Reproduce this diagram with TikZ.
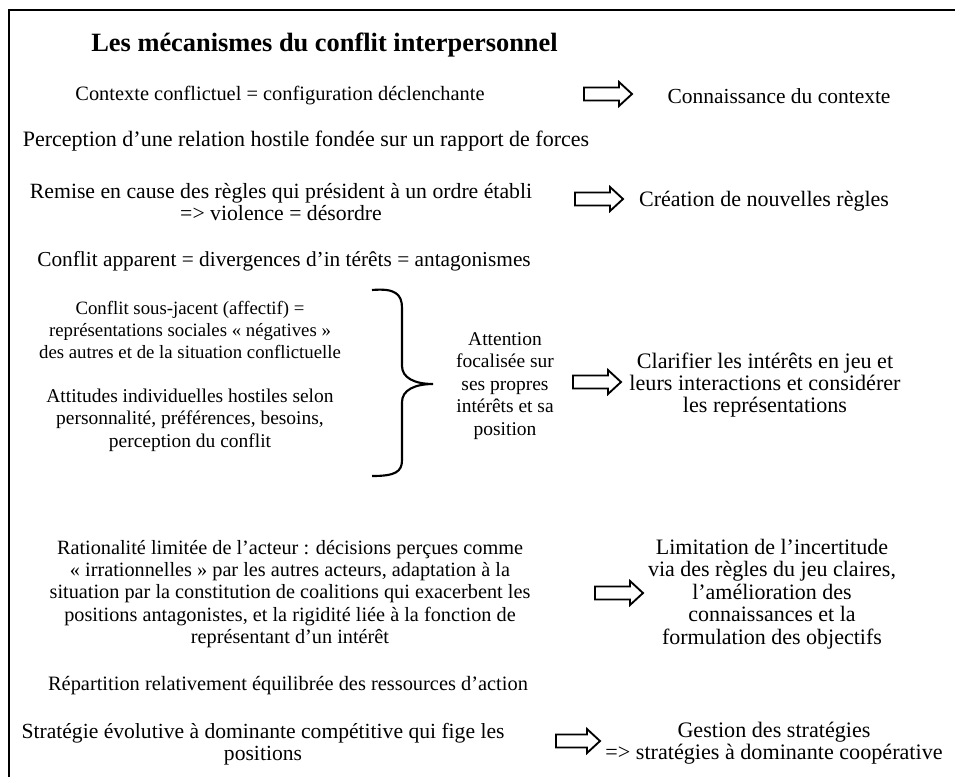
\documentclass[tikz,border=0pt]{standalone}
\usepackage{fontspec}
\setmainfont{Liberation Serif}
\begin{document}
\begin{tikzpicture}[x=0.75pt,y=-0.75pt,
  txt/.style={align=center,inner sep=0pt,font=\fontsize{#1}{16.8pt}\selectfont},
  txt/.default=14.6pt,
  ttl/.style={align=center,inner sep=0pt,font=\fontsize{19.8pt}{22pt}\selectfont\bfseries},
  blk/.style={draw=black,fill=white,line width=1.4pt,line join=miter}]
\useasboundingbox (0,0) rectangle (955,776);
\clip (0,0) rectangle (955,776);
\fill[white] (0,0) rectangle (955,776);
\draw[line width=1.5pt] (8.5,9.5) rectangle (980,800);

\node[ttl] (title) at (324.5,45) {Les mécanismes du conflit interpersonnel};

\node[txt=15.3pt] (t1) at (280,96) {Contexte conflictuel = configuration déclenchante};
\coordinate (a1) at (608,94);
\node[txt=16.1pt] (r1) at (779,96) {Connaissance du contexte};

\node[txt=16.5pt] (t2) at (306,141) {Perception d’une relation hostile fondée sur un rapport de forces};

\node[txt=16.3pt] (t3) at (281,202) {Remise en cause des règles qui président à un ordre établi\\=> violence = désordre};
\coordinate (a3) at (599,199);
\node[txt=16.5pt] (r3) at (764,201) {Création de nouvelles règles};

\node[txt=16pt] (t4) at (284,261) {Conflit apparent = divergences d’in térêts = antagonismes};

\node[txt=14.1pt] (t5a) at (190,330) {Conflit sous-jacent (affectif) =\\représentations sociales « négatives »\\des autres et de la situation conflictuelle};
\node[txt=14.6pt] (t5b) at (190,420) {Attitudes individuelles hostiles selon\\personnalité, préférences, besoins,\\perception du conflit};

\coordinate (bt) at (372,290);
\coordinate (bp) at (433,384);
\coordinate (bb) at (372,476);
\draw[line width=1.6pt] (bt) .. controls (395,288) and (402,294) .. (402,308)
  -- (402,366) .. controls (402,378) and (415,384) .. (bp)
  .. controls (415,384) and (402,390) .. (402,402)
  -- (402,460) .. controls (402,472) and (395,476) .. (bb);

\node[txt=14.6pt] (mid) at (505,386) {Attention\\focalisée sur\\ses propres\\intérêts et sa\\position};
\coordinate (a5) at (597,382);
\node[txt=16.6pt] (r5) at (765,385) {Clarifier les intérêts en jeu et\\leurs interactions et considérer\\les représentations};

\node[txt=15.2pt] (t6) at (290,594) {Rationalité limitée de l’acteur : décisions perçues comme\\« irrationnelles » par les autres acteurs, adaptation à la\\situation par la constitution de coalitions qui exacerbent les\\positions antagonistes, et la rigidité liée à la fonction de\\représentant d’un intérêt};
\coordinate (a6) at (619,593);
\node[txt=16.5pt] (r6) at (772,594) {Limitation de l’incertitude\\via des règles du jeu claires,\\l’amélioration des\\connaissances et la\\formulation des objectifs};

\node[txt=15.3pt] (t7) at (288,686) {Répartition relativement équilibrée des ressources d’action};

\node[txt=16.2pt] (t8) at (263,744) {Stratégie évolutive à dominante compétitive qui fige les\\positions};
\coordinate (a8) at (578,741);
\node[txt=16.6pt] (r8) at (774,743) {Gestion des stratégies\\=> stratégies à dominante coopérative};

\foreach \c in {a1,a3,a5,a6}
  \draw[blk,shift={(\c)}] (-24,-6.5) -- (11,-6.5) -- (11,-12) -- (24,0) -- (11,12) -- (11,6.5) -- (-24,6.5) -- cycle;
\draw[blk,shift={(a8)}] (-22,-6.5) -- (9,-6.5) -- (9,-12) -- (22,0) -- (9,12) -- (9,6.5) -- (-22,6.5) -- cycle;
\end{tikzpicture}
\end{document}
